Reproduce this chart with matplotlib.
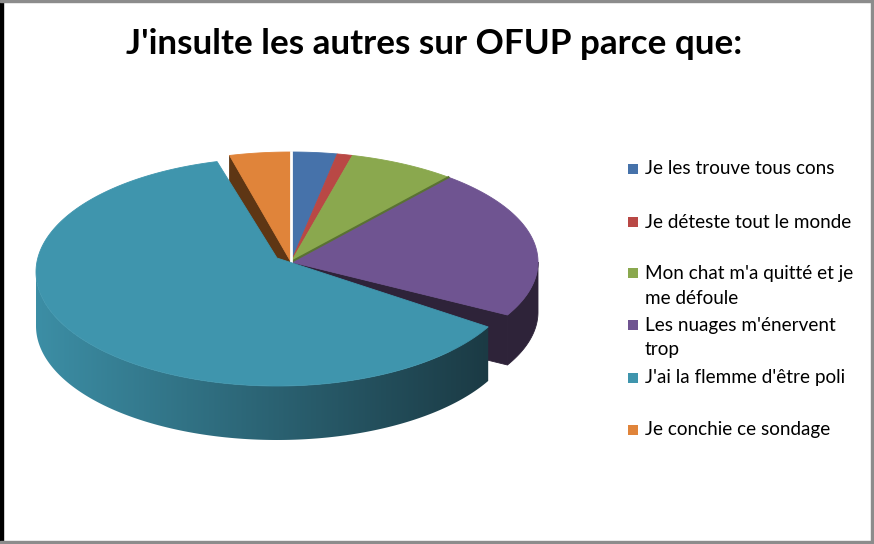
import numpy as np
import matplotlib.pyplot as plt
from matplotlib.patches import Polygon, Rectangle

plt.rcParams['font.family'] = ['Lato', 'DejaVu Sans']

titre = "J'insulte les autres sur OFUP parce que:"
etiquettes = [
    ["Je les trouve tous cons"],
    ["Je déteste tout le monde"],
    ["Mon chat m'a quitté et je", "me défoule"],
    ["Les nuages m'énervent", "trop"],
    ["J'ai la flemme d'être poli"],
    ["Je conchie ce sondage"],
]
valeurs = [3, 1, 7, 22, 63, 4]
couleurs = ['#4672aa', '#b94845', '#8aa84e', '#6f5491', '#3f95ad', '#e0843a']
couleurs_coupe = ['#2a4466', '#6e2b29', '#55682f', '#2e2339', '#1e4652', '#5e3614']
eclate = 4  # la part turquoise est sortie du camembert

# geometrie du camembert (pixels)
CX, CY, A, B, EP = 291, 262, 247, 110, 50
# part eclatee : sommet et ellipse propres
SX_E, SY_E = 277, 258
CX_E, CY_E, A_E, B_E, EP_E = 277, 272, 241, 114, 54

fig = plt.figure(figsize=(8.74, 5.44), dpi=100)
ax = fig.add_axes([0, 0, 1, 1])
ax.set_xlim(0, 874)
ax.set_ylim(544, 0)
ax.axis('off')


def bord(cx, cy, a, b, th):
    t = np.radians(th)
    return cx + a * np.sin(t), cy - b * np.cos(t)


def poly(pts, c, z):
    p = Polygon(pts, closed=True, facecolor=c, edgecolor=c, lw=0.6, zorder=z)
    ax.add_patch(p)
    return p


bornes = np.concatenate([[0], np.cumsum(valeurs) / sum(valeurs) * 360])

# faces coupees visibles a cote de la part eclatee
for i, th in [(eclate - 1, bornes[eclate]), (eclate + 1, bornes[eclate + 1])]:
    x, y = bord(CX, CY, A, B, th)
    poly([(CX, CY), (x, y), (x, y + EP), (CX, CY + EP)], couleurs_coupe[i], 1)

# parois exterieures et dessus des parts non eclatees
for i in range(len(valeurs)):
    if i == eclate:
        continue
    t0, t1 = bornes[i], bornes[i + 1]
    a0, a1 = max(t0, 90), min(t1, 270)
    if a1 > a0:
        th = np.linspace(a0, a1, 60)
        x, y = bord(CX, CY, A, B, th)
        pts = list(zip(x, y)) + list(zip(x[::-1], y[::-1] + EP))
        poly(pts, couleurs_coupe[i], 2)
    th = np.linspace(t0, t1, 120)
    x, y = bord(CX, CY, A, B, th)
    poly([(CX, CY)] + list(zip(x, y)), couleurs[i], 3)

# petit liseré vert foncé et trait blanc au départ
x, y = bord(CX, CY, A, B, bornes[3])
ax.plot([CX, x], [CY, y], color='#5a7233', lw=1.5, zorder=3.5)
ax.plot([CX, CX], [CY, CY - B], color='white', lw=2, zorder=3.5)

# part eclatee : paroi en degrade (image decoupee) puis dessus
t0, t1 = bornes[eclate], bornes[eclate + 1]
th = np.linspace(t0, min(t1, 270), 200)
x, y = bord(CX_E, CY_E, A_E, B_E, th)
paroi = Polygon(list(zip(x, y)) + list(zip(x[::-1], y[::-1] + EP_E)), closed=True,
                facecolor='none', edgecolor='none')
ax.add_patch(paroi)
gauche = np.array([60, 142, 165]) / 255
droite = np.array([27, 58, 68]) / 255
f = np.linspace(0, 1, 256)[:, None]
degrade = (gauche * (1 - f) + droite * f)[None, :, :]
im = ax.imshow(degrade, extent=(x.min(), x.max(), y.max() + EP_E + 2, y.min() - 2),
               aspect='auto', interpolation='bilinear', zorder=4)
im.set_clip_path(paroi)
ax.set_xlim(0, 874)
ax.set_ylim(544, 0)

th = np.linspace(t0, t1, 300)
x, y = bord(CX_E, CY_E, A_E, B_E, th)
poly([(SX_E, SY_E)] + list(zip(x, y)), couleurs[eclate], 5)

# titre et legende
r = fig.canvas.get_renderer()


def ajuster(t, largeur):
    w = t.get_window_extent(renderer=r).width
    t.set_fontsize(t.get_fontsize() * largeur / w)
    return t.get_fontsize()


t = ax.text(434, 44, titre, ha='center', va='center', fontsize=22, weight='bold', color='black')
ajuster(t, 614)

lignes_y = [[169], [222], [273, 298], [325, 350], [378], [430]]
essai = ax.text(645, 0, etiquettes[0][0], fontsize=13)
taille = ajuster(essai, 189)
essai.remove()
for i, lab in enumerate(etiquettes):
    yc = lignes_y[i][0]
    ax.add_patch(Rectangle((628, yc - 5), 10, 10, facecolor=couleurs[i], edgecolor='none', zorder=6))
    for k, ligne in enumerate(lab):
        ax.text(645, lignes_y[i][k], ligne, ha='left', va='center', fontsize=taille, color='black')

# cadre
ax.add_patch(Rectangle((0, 0), 3, 544, color='black', zorder=10))
ax.add_patch(Rectangle((0, 0), 874, 2, color='#8c8c8c', zorder=10))
ax.add_patch(Rectangle((871, 0), 3, 544, color='#8c8c8c', zorder=10))
ax.add_patch(Rectangle((0, 541), 874, 3, color='#8c8c8c', zorder=10))

fig.savefig('out.png', dpi=100)
